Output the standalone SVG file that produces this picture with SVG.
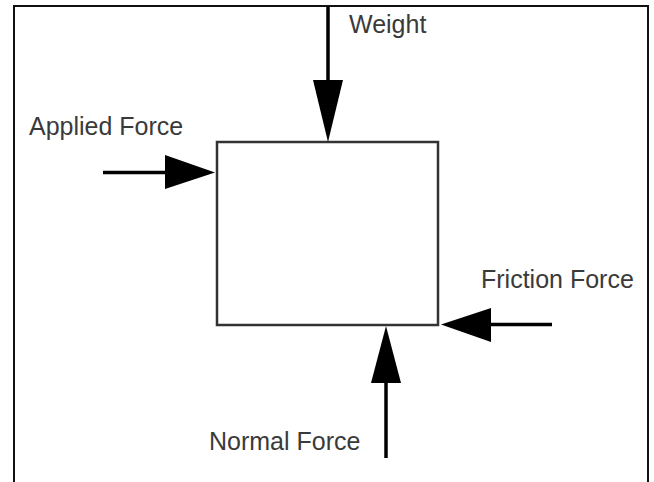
<svg xmlns="http://www.w3.org/2000/svg" width="654" height="482" viewBox="0 0 654 482">
<style>
.frame{fill:none;stroke:#111;stroke-width:2}
.box{fill:#fff;stroke:#333;stroke-width:2.5}
.shaft{stroke:#000;stroke-width:3.5;fill:none}
.head{fill:#000;stroke:none}
.lbl{font-family:"Liberation Sans",Arial,sans-serif;font-size:25px;fill:#3a3a3a}
</style>
<rect width="654" height="482" fill="#fff"/>
<path class="frame" d="M14,482 V6 H648 V482"/>
<g id="block">
<rect class="box" x="217" y="142" width="221" height="183"/>
</g>
<g id="connectors">
<line class="shaft" x1="328" y1="7" x2="328" y2="90"/>
<polygon class="head" points="313,80 343,80 328,142"/>
<line class="shaft" x1="103" y1="172.5" x2="175" y2="172.5"/>
<polygon class="head" points="165,155 165,189 215,172.5"/>
<line class="shaft" x1="552" y1="324.5" x2="480" y2="324.5"/>
<polygon class="head" points="491,308 491,342 441,324.5"/>
<line class="shaft" x1="386" y1="458" x2="386" y2="375"/>
<polygon class="head" points="371,383 401,383 386,326"/>
</g>
<g id="weight-label"><text class="lbl" x="349" y="33">Weight</text></g>
<g id="applied-label"><text class="lbl" x="29" y="135">Applied Force</text></g>
<g id="friction-label"><text class="lbl" x="481" y="288">Friction Force</text></g>
<g id="normal-label"><text class="lbl" x="209" y="450" font-size="24.5">Normal Force</text></g>
</svg>
